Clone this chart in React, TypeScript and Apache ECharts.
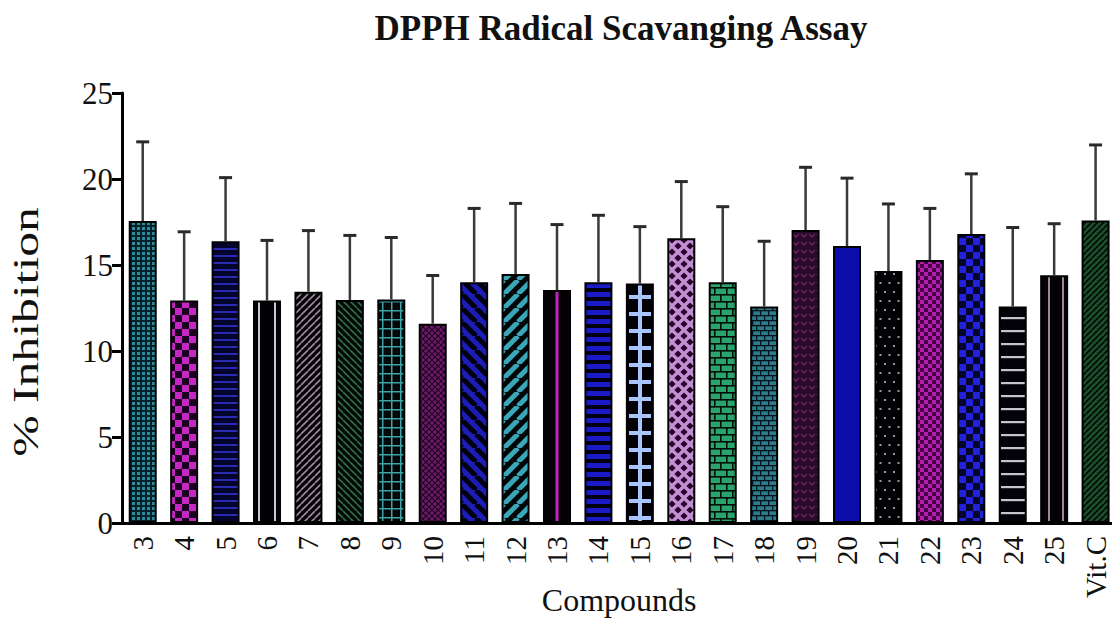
import React, { useEffect, useRef } from 'react';
import * as echarts from 'echarts';

const categories = ['3', '4', '5', '6', '7', '8', '9', '10', '11', '12', '13', '14', '15', '16', '17', '18', '19', '20', '21', '22', '23', '24', '25', 'Vit.C'];
const inhibitionMean = [17.56, 12.93, 16.38, 12.93, 13.45, 12.97, 13.0, 11.59, 13.99, 14.48, 13.55, 13.99, 13.93, 16.55, 13.99, 12.58, 17.03, 16.1, 14.65, 15.29, 16.8, 12.58, 14.4, 17.58];
const inhibitionSD = [4.6, 4.0, 3.7, 3.5, 3.55, 3.75, 3.6, 2.8, 4.3, 4.1, 3.8, 3.9, 3.3, 3.3, 4.4, 3.8, 3.65, 3.95, 3.9, 3.0, 3.5, 4.6, 3.0, 4.4];
const yMin = 0;
const yMax = 25;
const yStep = 5;

const TITLE = 'DPPH Radical Scavanging Assay';
const X_NAME = 'Compounds';
const Y_NAME = '% Inhibition';

const GRID_LEFT = 122;
const GRID_TOP = 93;
const GRID_W = 994.3;
const GRID_H = 430;
const BAR_W = 28;
const FONT = '"Liberation Serif", "Times New Roman", serif';

type Ctx = CanvasRenderingContext2D;

function tile(w: number, h: number, draw: (c: Ctx, w: number, h: number) => void, shift = 0) {
  const cv = document.createElement('canvas');
  cv.width = w;
  cv.height = h;
  const ctx = cv.getContext('2d') as Ctx;
  for (const dx of [shift, shift - w]) {
    ctx.save();
    ctx.translate(dx, 0);
    ctx.beginPath();
    ctx.rect(0, 0, w, h);
    ctx.clip();
    draw(ctx, w, h);
    ctx.restore();
  }
  return cv;
}
function bg(c: Ctx, w: number, h: number, color: string) {
  c.fillStyle = color;
  c.fillRect(0, 0, w, h);
}
function diag(c: Ctx, s: number, color: string, lw: number, dir: '/' | '\\') {
  c.strokeStyle = color;
  c.lineWidth = lw;
  c.beginPath();
  for (const o of [-s, 0, s]) {
    if (dir === '/') {
      c.moveTo(o, s);
      c.lineTo(o + s, 0);
    } else {
      c.moveTo(o, 0);
      c.lineTo(o + s, s);
    }
  }
  c.stroke();
}
function checker(a: string, b: string, cell: number) {
  return tile(cell * 2, cell * 2, (c, w, h) => {
    bg(c, w, h, a);
    c.fillStyle = b;
    c.fillRect(0, 0, cell, cell);
    c.fillRect(cell, cell, cell, cell);
  });
}
function brick(face: string, mortar: string, bw: number, bh: number, lw: number) {
  return tile(bw, bh * 2, (c, w, h) => {
    bg(c, w, h, face);
    c.fillStyle = mortar;
    c.fillRect(0, 0, w, lw);
    c.fillRect(0, bh, w, lw);
    c.fillRect(0, 0, lw, bh);
    c.fillRect(bw / 2, bh, lw, bh);
  });
}

function makeTiles(barLeft: (i: number) => number): HTMLCanvasElement[] {
  const ph = (i: number, w: number) => Math.round(((barLeft(i) % w) + w) % w);
  return [
    // 3 teal fine grid
    tile(5, 5, (c, w, h) => { bg(c, w, h, '#2b8d9c'); c.fillStyle = '#06202a'; c.fillRect(0, 0, w, 2); c.fillRect(0, 0, 2, h); }),
    // 4 magenta checker
    checker('#c526c4', '#1c0020', 7),
    // 5 navy with blue horizontal lines
    tile(4, 7, (c, w, h) => { bg(c, w, h, '#04042c'); c.fillStyle = '#2a2ab0'; c.fillRect(0, 3, w, 2); }),
    // 6 black with two light vertical lines
    tile(28, 4, (c, w, h) => { bg(c, w, h, '#020205'); c.fillStyle = '#c8c8d4'; c.fillRect(5, 0, 2, h); c.fillRect(21, 0, 2, h); }, ph(3, 28)),
    // 7 black with / grey lines
    tile(7, 7, (c, w, h) => { bg(c, w, h, '#050307'); diag(c, 7, '#9a8a9c', 1.6, '/'); }),
    // 8 black with \ green lines
    tile(7, 7, (c, w, h) => { bg(c, w, h, '#030805'); diag(c, 7, '#2f6e46', 1.6, '\\'); }),
    // 9 black with teal grid
    tile(9, 9, (c, w, h) => { bg(c, w, h, '#02080a'); c.fillStyle = '#3ea4a6'; c.fillRect(4, 0, 1.5, h); c.fillRect(0, 4, w, 1.5); }),
    // 10 purple crosshatch
    tile(6, 6, (c, w, h) => { bg(c, w, h, '#6e1a6c'); diag(c, 6, '#200420', 1.2, '/'); diag(c, 6, '#200420', 1.2, '\\'); }),
    // 11 blue with black \ stripes
    tile(14, 14, (c, w, h) => { bg(c, w, h, '#1c1cb6'); diag(c, 14, '#000010', 5, '\\'); }),
    // 12 black with teal / stripes
    tile(14, 14, (c, w, h) => { bg(c, w, h, '#020608'); diag(c, 14, '#3aa6b6', 5, '/'); }),
    // 13 black with magenta center line
    tile(28, 4, (c, w, h) => { bg(c, w, h, '#060006'); c.fillStyle = '#c422c2'; c.fillRect(12.5, 0, 3, h); }, ph(10, 28)),
    // 14 blue with black horizontal bands
    tile(4, 9, (c, w, h) => { bg(c, w, h, '#1a1ac8'); c.fillStyle = '#000010'; c.fillRect(0, 0, w, 4); }),
    // 15 black with light blue ladder
    tile(28, 17, (c, w, h) => { bg(c, w, h, '#000006'); c.fillStyle = '#a8c6fc'; c.fillRect(12, 0, 4, h); c.fillRect(3, 6, 22, 4); }, ph(12, 28)),
    // 16 lavender with dark diamonds
    tile(12, 12, (c, w, h) => {
      bg(c, w, h, '#c290d2');
      c.fillStyle = '#2a002c';
      const dia = (x: number, y: number) => { c.beginPath(); c.moveTo(x, y - 3.6); c.lineTo(x + 3.6, y); c.lineTo(x, y + 3.6); c.lineTo(x - 3.6, y); c.closePath(); c.fill(); };
      dia(6, 6); dia(0, 0); dia(12, 0); dia(0, 12); dia(12, 12);
    }),
    // 17 green brick
    brick('#2aa46c', '#021008', 12, 7, 1.6),
    // 18 teal small brick
    brick('#2c7c8c', '#04141e', 8, 5, 1.3),
    // 19 dark purple with chevrons
    tile(8, 8, (c, w, h) => {
      bg(c, w, h, '#2a0a2c');
      c.strokeStyle = '#6e2a5e'; c.lineWidth = 1.3;
      c.beginPath(); c.moveTo(1, 2); c.lineTo(4, 5); c.lineTo(7, 2); c.stroke();
    }),
    // 20 solid blue
    tile(4, 4, (c, w, h) => { bg(c, w, h, '#0c0caa'); }),
    // 21 black with dots
    tile(9, 18, (c, w, h) => { bg(c, w, h, '#020204'); c.fillStyle = '#9a9aa0'; c.fillRect(2, 3, 2, 2); c.fillRect(6.5, 12, 2, 2); }),
    // 22 magenta fine checker
    checker('#b21eaa', '#48004a', 4),
    // 23 blue checker
    checker('#2222da', '#06062c', 7),
    // 24 black with horizontal white lines
    tile(28, 13, (c, w, h) => { bg(c, w, h, '#020208'); c.fillStyle = '#c4c4cc'; c.fillRect(2, 5, 24, 2.2); }, ph(21, 28)),
    // 25 black with vertical grey lines
    tile(28, 4, (c, w, h) => { bg(c, w, h, '#040004'); c.fillStyle = '#9c8898'; c.fillRect(8, 0, 2, h); c.fillRect(22, 0, 2, h); }, ph(22, 28)),
    // Vit.C dark green with black / lines
    tile(6, 6, (c, w, h) => { bg(c, w, h, '#1c4e2c'); diag(c, 6, '#020a04', 1.6, '/'); }),
  ];
}

export default function App() {
  const ref = useRef<HTMLDivElement>(null);

  useEffect(() => {
    if (!ref.current) return;
    const chart = echarts.init(ref.current, null, { renderer: 'svg' });
    const catW = GRID_W / categories.length;
    const barLeft = (i: number) => GRID_LEFT + (i + 0.5) * catW - BAR_W / 2;
    const tiles = makeTiles(barLeft);
    const barData = inhibitionMean.map((v, i) => {
      const cv = tiles[i];
      return {
        value: v,
        itemStyle: {
          color: {
            image: cv,
            repeat: 'repeat',
            imageWidth: cv.width,
            imageHeight: cv.height,
          },
        },
      };
    });
    const errData = inhibitionMean.map((m, i) => [i, m, m + inhibitionSD[i]]);

    chart.setOption({
      animation: false,
      backgroundColor: '#ffffff',
      grid: { left: GRID_LEFT, top: GRID_TOP, width: GRID_W, height: GRID_H, containLabel: false, outerBoundsMode: 'none' },
      graphic: [
        {
          type: 'text',
          x: 621,
          y: 28,
          style: { text: TITLE, fontFamily: FONT, fontWeight: 'bold', fontSize: 35, fill: '#111', align: 'center', verticalAlign: 'middle' },
        },
        {
          type: 'text',
          x: 26,
          y: 332,
          rotation: Math.PI / 2,
          scaleX: 1.38,
          style: { text: Y_NAME, fontFamily: FONT, fontSize: 36, fill: '#111', align: 'center', verticalAlign: 'middle' },
        },
      ],
      xAxis: {
        type: 'category',
        data: categories,
        name: X_NAME,
        nameLocation: 'middle',
        nameGap: 61,
        nameMoveOverlap: false,
        nameTextStyle: { fontFamily: FONT, fontSize: 32, color: '#111' },
        axisLine: { lineStyle: { color: '#000', width: 3 } },
        axisTick: { alignWithLabel: true, length: 8, lineStyle: { color: '#000', width: 3 } },
        axisLabel: { rotate: 90, fontFamily: FONT, fontSize: 29, color: '#111', margin: 13 },
      },
      yAxis: {
        type: 'value',
        min: yMin,
        max: yMax,
        interval: yStep,
        axisLine: { show: true, lineStyle: { color: '#000', width: 3 } },
        axisTick: { show: true, length: 10, lineStyle: { color: '#000', width: 3 } },
        splitLine: { show: false },
        axisLabel: { fontFamily: FONT, fontSize: 31, color: '#111', margin: 9 },
      },
      series: [
        {
          type: 'bar',
          data: barData,
          barWidth: BAR_W,
          itemStyle: { borderColor: '#000', borderWidth: 2 },
          z: 2,
        },
        {
          type: 'custom',
          data: errData,
          encode: { x: 0, y: 2 },
          z: 3,
          renderItem: (_params: any, api: any) => {
            const i = api.value(0);
            const lo = api.coord([i, api.value(1)]);
            const hi = api.coord([i, api.value(2)]);
            return {
              type: 'group',
              children: [
                { type: 'line', shape: { x1: lo[0], y1: lo[1], x2: hi[0], y2: hi[1] }, style: { stroke: '#3a3a3a', lineWidth: 2.5 } },
                { type: 'line', shape: { x1: hi[0] - 6.5, y1: hi[1], x2: hi[0] + 6.5, y2: hi[1] }, style: { stroke: '#2a2a2a', lineWidth: 3 } },
              ],
            };
          },
        },
      ],
    });
    return () => chart.dispose();
  }, []);

  return <div ref={ref} style={{ position: 'absolute', left: 0, top: 0, width: 1112, height: 618 }} />;
}
